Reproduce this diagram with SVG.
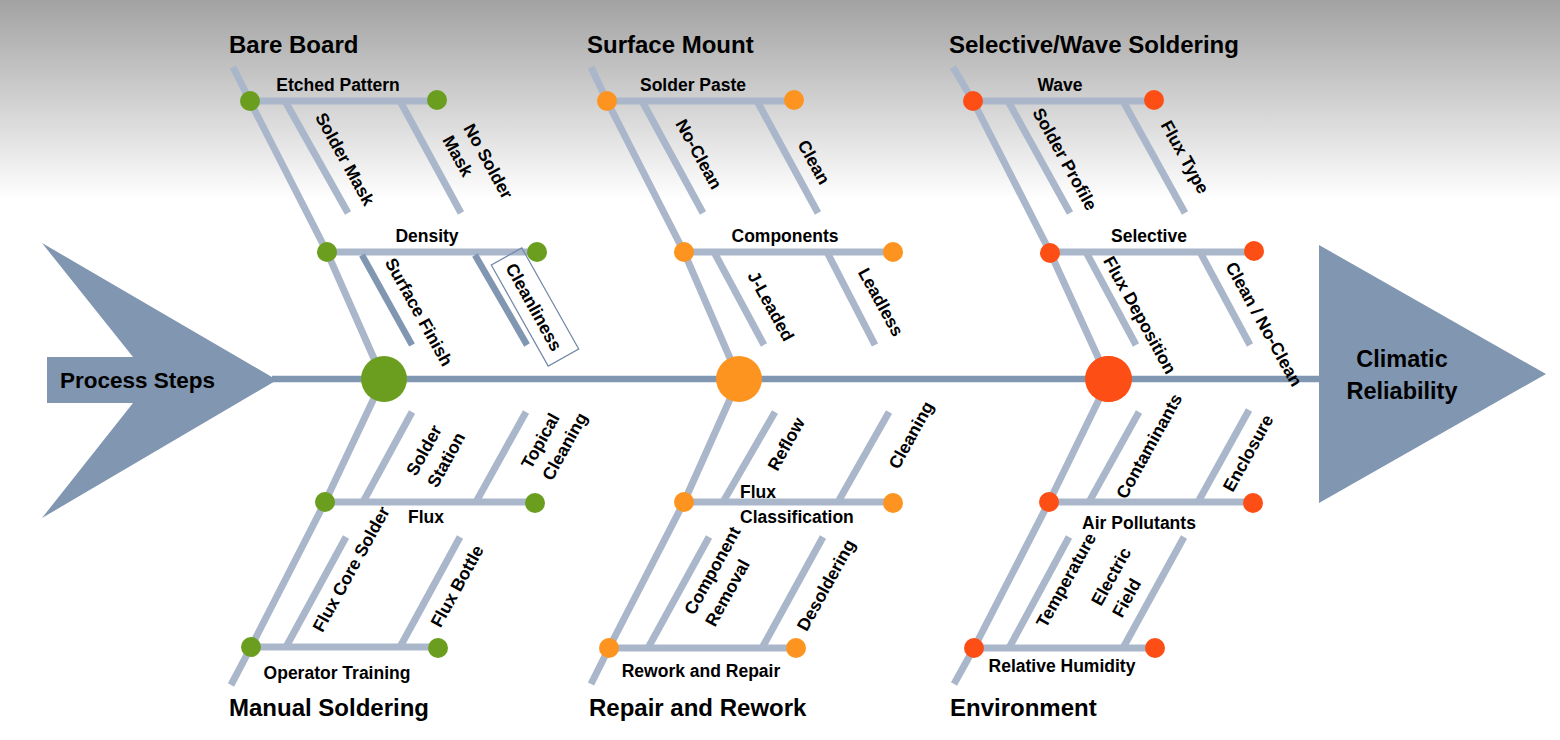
<svg xmlns="http://www.w3.org/2000/svg" width="1560" height="740" viewBox="0 0 1560 740">
<defs>
<linearGradient id="bg" x1="0" y1="0" x2="0" y2="1">
<stop offset="0" stop-color="#a2a2a2"/>
<stop offset="1" stop-color="#ffffff"/>
</linearGradient>
<style>
.bone{stroke:#aab7cb;stroke-width:7;fill:none;stroke-linecap:butt;stroke-linejoin:round}
.spine{stroke:#8096b1;stroke-width:6.5;fill:none}
.dark{stroke:#8096b1;stroke-width:6.5;fill:none}
.arrow{fill:#8096b1}
.t{font-family:"Liberation Sans",Arial,sans-serif;font-weight:bold;fill:#000}
.title{font-size:24px}
.lbl{font-size:17.5px}
.big{font-size:22.5px}
.g{fill:#6b9e1f}
.o{fill:#fd9420}
.r{fill:#fd4f15}
.box{fill:none;stroke:#7187a6;stroke-width:1.2}
</style>
</defs>
<rect x="0" y="0" width="1560" height="740" fill="#ffffff"/>
<rect x="0" y="0" width="1560" height="200" fill="url(#bg)"/>

<g id="connectors">
<line class="spine" x1="272" y1="379" x2="1322" y2="379"/>
<polyline class="bone" points="233,67 250,101 327,252 383,379"/>
<polyline class="bone" points="591,67 607,101 684,252 739,379"/>
<polyline class="bone" points="953,67 973,101 1050,252 1108,379"/>
<polyline class="bone" points="383,379 325,502 251,647 231,685"/>
<polyline class="bone" points="739,379 684,502 609,648 591,684"/>
<polyline class="bone" points="1109,379 1049,502 974,648 954,684"/>
</g>

<g id="process-steps">
<polygon class="arrow" points="47,357 133,357 42,243 277,380 42,518 133,403 47,403"/>
<text class="t big" x="60" y="388">Process Steps</text>
</g>

<g id="climatic-reliability">
<polygon class="arrow" points="1319,245 1546,374 1319,503"/>
<text class="t" font-size="23.5" x="1402" y="367" text-anchor="middle">Climatic</text>
<text class="t" font-size="23.5" x="1402" y="399" text-anchor="middle">Reliability</text>
</g>

<g id="bare-board">
<line class="bone" x1="250" y1="101" x2="437" y2="101"/>
<line class="bone" x1="285" y1="101" x2="348" y2="213"/>
<line class="bone" x1="400" y1="101" x2="461" y2="213"/>
<line class="bone" x1="327" y1="252" x2="537" y2="252"/>
<line class="dark" x1="362" y1="255" x2="412" y2="345"/>
<line class="dark" x1="475" y1="255" x2="527" y2="345"/>
<rect class="box" x="-58" y="-17.5" width="116" height="35" transform="translate(535,307) rotate(60.6)"/>
<circle class="g" cx="250" cy="101" r="10"/>
<circle class="g" cx="437" cy="100" r="10"/>
<circle class="g" cx="327" cy="252" r="10"/>
<circle class="g" cx="537" cy="252" r="10"/>
<circle class="g" cx="384" cy="379" r="23"/>
<text class="t title" x="229" y="53">Bare Board</text>
<text class="t lbl" x="338" y="91" text-anchor="middle">Etched Pattern</text>
<text class="t lbl" x="427" y="242" text-anchor="middle">Density</text>
<text class="t lbl" text-anchor="middle" dy="0.35em" transform="translate(345,159) rotate(61)">Solder Mask</text>
<text class="t lbl" transform="translate(463,128) rotate(61)"><tspan x="0" y="0">No Solder</tspan><tspan x="0" y="24">Mask</tspan></text>
<text class="t lbl" text-anchor="middle" dy="0.35em" transform="translate(419,312) rotate(61)">Surface Finish</text>
<text class="t lbl" text-anchor="middle" dy="0.35em" transform="translate(534,307) rotate(61)">Cleanliness</text>
</g>

<g id="surface-mount">
<line class="bone" x1="607" y1="101" x2="794" y2="101"/>
<line class="bone" x1="642" y1="101" x2="703" y2="213"/>
<line class="bone" x1="757" y1="101" x2="818" y2="213"/>
<line class="bone" x1="684" y1="252" x2="893" y2="252"/>
<line class="bone" x1="714" y1="252" x2="764" y2="345"/>
<line class="bone" x1="827" y1="252" x2="875" y2="345"/>
<circle class="o" cx="607" cy="101" r="10"/>
<circle class="o" cx="794" cy="100" r="10"/>
<circle class="o" cx="684" cy="252" r="10"/>
<circle class="o" cx="893" cy="252" r="10"/>
<circle class="o" cx="739" cy="379" r="23"/>
<text class="t title" x="587" y="53">Surface Mount</text>
<text class="t lbl" x="693" y="91" text-anchor="middle">Solder Paste</text>
<text class="t lbl" x="785" y="242" text-anchor="middle">Components</text>
<text class="t lbl" text-anchor="middle" dy="0.35em" transform="translate(699,154) rotate(61)">No-Clean</text>
<text class="t lbl" text-anchor="middle" dy="0.35em" transform="translate(814,162) rotate(61)">Clean</text>
<text class="t lbl" text-anchor="middle" dy="0.35em" transform="translate(771,306) rotate(61)">J-Leaded</text>
<text class="t lbl" text-anchor="middle" dy="0.35em" transform="translate(881,302) rotate(61)">Leadless</text>
</g>

<g id="selective-wave-soldering">
<line class="bone" x1="973" y1="101" x2="1154" y2="101"/>
<line class="bone" x1="1008" y1="101" x2="1070" y2="213"/>
<line class="bone" x1="1123" y1="101" x2="1185" y2="213"/>
<line class="bone" x1="1050" y1="252" x2="1254" y2="252"/>
<line class="bone" x1="1086" y1="252" x2="1136" y2="345"/>
<line class="bone" x1="1200" y1="252" x2="1250" y2="345"/>
<circle class="r" cx="973" cy="101" r="10"/>
<circle class="r" cx="1154" cy="100" r="10"/>
<circle class="r" cx="1050" cy="253" r="10"/>
<circle class="r" cx="1254" cy="251" r="10"/>
<circle class="r" cx="1108" cy="379" r="23"/>
<text class="t title" x="949" y="53">Selective/Wave Soldering</text>
<text class="t lbl" x="1060" y="91" text-anchor="middle">Wave</text>
<text class="t lbl" x="1149" y="242" text-anchor="middle">Selective</text>
<text class="t lbl" text-anchor="middle" dy="0.35em" transform="translate(1065,159) rotate(61)">Solder Profile</text>
<text class="t lbl" text-anchor="middle" dy="0.35em" transform="translate(1185,157) rotate(61)">Flux Type</text>
<text class="t lbl" text-anchor="middle" dy="0.35em" transform="translate(1140,315) rotate(61)">Flux Deposition</text>
<text class="t lbl" text-anchor="middle" dy="0.35em" transform="translate(1264,324) rotate(61)">Clean / No-Clean</text>
</g>

<g id="manual-soldering">
<line class="bone" x1="325" y1="502" x2="535" y2="502"/>
<line class="bone" x1="363" y1="502" x2="412" y2="412"/>
<line class="bone" x1="476" y1="502" x2="526" y2="412"/>
<line class="bone" x1="251" y1="647" x2="438" y2="647"/>
<line class="bone" x1="286" y1="647" x2="346" y2="537"/>
<line class="bone" x1="400" y1="647" x2="460" y2="537"/>
<circle class="g" cx="325" cy="502" r="10"/>
<circle class="g" cx="535" cy="503" r="10"/>
<circle class="g" cx="251" cy="647" r="10"/>
<circle class="g" cx="438" cy="648" r="10"/>
<text class="t title" x="229" y="716">Manual Soldering</text>
<text class="t lbl" x="426" y="523" text-anchor="middle">Flux</text>
<text class="t lbl" x="337" y="679" text-anchor="middle">Operator Training</text>
<text class="t lbl" transform="translate(416,477) rotate(-61)"><tspan x="0" y="0">Solder</tspan><tspan x="0" y="24">Station</tspan></text>
<text class="t lbl" transform="translate(531,470) rotate(-61)"><tspan x="0" y="0">Topical</tspan><tspan x="0" y="24">Cleaning</tspan></text>
<text class="t lbl" text-anchor="middle" dy="0.35em" transform="translate(351,569) rotate(-61)">Flux Core Solder</text>
<text class="t lbl" text-anchor="middle" dy="0.35em" transform="translate(457,586) rotate(-61)">Flux Bottle</text>
</g>

<g id="repair-and-rework">
<line class="bone" x1="684" y1="502" x2="893" y2="502"/>
<line class="bone" x1="723" y1="502" x2="775" y2="412"/>
<line class="bone" x1="838" y1="502" x2="889" y2="412"/>
<line class="bone" x1="609" y1="648" x2="796" y2="648"/>
<line class="bone" x1="648" y1="648" x2="709" y2="537"/>
<line class="bone" x1="762" y1="648" x2="823" y2="537"/>
<circle class="o" cx="684" cy="502" r="10"/>
<circle class="o" cx="893" cy="503" r="10"/>
<circle class="o" cx="609" cy="648" r="10"/>
<circle class="o" cx="796" cy="648" r="10"/>
<text class="t title" x="589" y="716">Repair and Rework</text>
<text class="t lbl" x="740" y="498">Flux</text>
<text class="t lbl" x="740" y="523">Classification</text>
<text class="t lbl" x="701" y="677" text-anchor="middle">Rework and Repair</text>
<text class="t lbl" text-anchor="middle" dy="0.35em" transform="translate(786,444) rotate(-61)">Reflow</text>
<text class="t lbl" text-anchor="middle" dy="0.35em" transform="translate(911,435) rotate(-61)">Cleaning</text>
<text class="t lbl" transform="translate(694,616) rotate(-61)"><tspan x="0" y="0">Component</tspan><tspan x="0" y="24">Removal</tspan></text>
<text class="t lbl" text-anchor="middle" dy="0.35em" transform="translate(826,585) rotate(-61)">Desoldering</text>
</g>

<g id="environment">
<line class="bone" x1="1049" y1="502" x2="1253" y2="502"/>
<line class="bone" x1="1089" y1="502" x2="1139" y2="412"/>
<line class="bone" x1="1198" y1="502" x2="1249" y2="410"/>
<line class="bone" x1="974" y1="648" x2="1155" y2="648"/>
<line class="bone" x1="1009" y1="648" x2="1069" y2="537"/>
<line class="bone" x1="1123" y1="648" x2="1184" y2="537"/>
<circle class="r" cx="1049" cy="502" r="10"/>
<circle class="r" cx="1253" cy="503" r="10"/>
<circle class="r" cx="974" cy="648" r="10"/>
<circle class="r" cx="1155" cy="648" r="10"/>
<circle class="r" cx="1109" cy="379" r="23"/>
<text class="t title" x="950" y="716">Environment</text>
<text class="t lbl" x="1139" y="529" text-anchor="middle">Air Pollutants</text>
<text class="t lbl" x="1062" y="672" text-anchor="middle">Relative Humidity</text>
<text class="t lbl" text-anchor="middle" dy="0.35em" transform="translate(1149,446) rotate(-61)">Contaminants</text>
<text class="t lbl" text-anchor="middle" dy="0.35em" transform="translate(1248,453) rotate(-61)">Enclosure</text>
<text class="t lbl" text-anchor="middle" dy="0.35em" transform="translate(1066,580) rotate(-61)">Temperature</text>
<text class="t lbl" transform="translate(1101,607) rotate(-61)"><tspan x="0" y="0">Electric</tspan><tspan x="0" y="24">Field</tspan></text>
</g>
</svg>
